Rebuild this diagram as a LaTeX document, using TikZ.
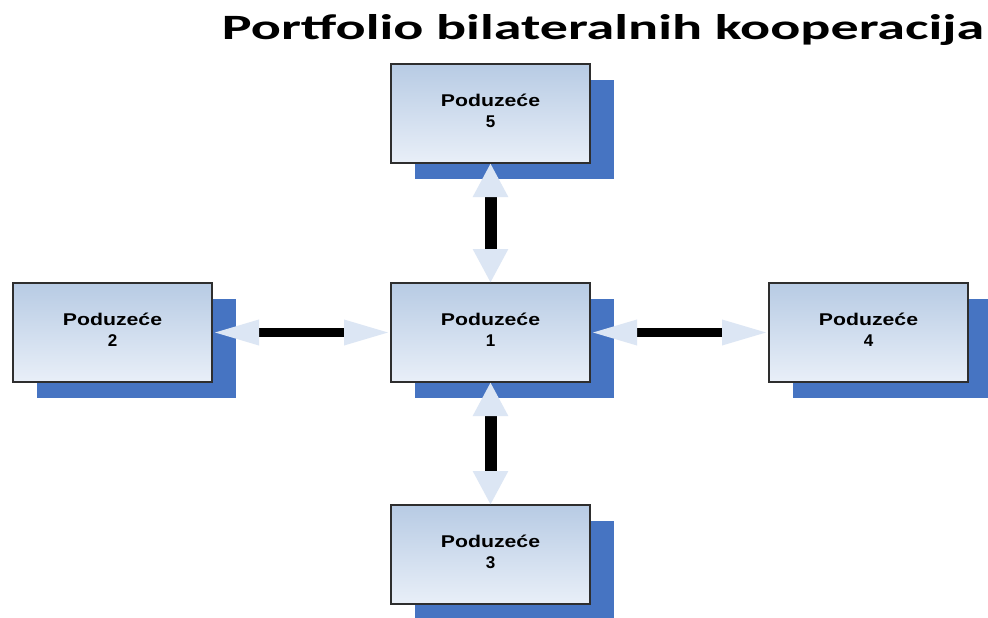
\documentclass[tikz,border=0pt]{standalone}
\usepackage{fontspec}
\setmainfont{Liberation Sans}
\newfontfamily\titlefont{Carlito}
\usetikzlibrary{arrows.meta,shadows}
\definecolor{boxtop}{HTML}{B7CBE4}
\definecolor{boxbot}{HTML}{E9EFF8}
\definecolor{boxline}{HTML}{2E2E2E}
\definecolor{shadowblue}{HTML}{4674C2}
\definecolor{arrowblue}{HTML}{DCE6F4}
\tikzset{
  firm/.style={rectangle, draw=boxline, line width=1.8pt, top color=boxtop, bottom color=boxbot,
    minimum width=199pt, minimum height=99pt, inner sep=0pt, outer sep=0pt, align=center,
    font=\bfseries\fontsize{17}{21}\selectfont,
    general shadow={fill=shadowblue, shadow xshift=24pt, shadow yshift=-16pt}},
  vconn/.style={line width=12pt, draw=black,
    {Triangle[length=34pt,width=33pt,color=arrowblue]}-{Triangle[length=34pt,width=33pt,color=arrowblue]}},
  hconn/.style={line width=9pt, draw=black,
    {Triangle[length=47pt,width=23pt,color=arrowblue]}-{Triangle[length=47pt,width=23pt,color=arrowblue]}},
  lbl/.style={inner sep=0pt, align=center, font=\bfseries\fontsize{17}{21}\selectfont},
  title/.style={anchor=base, inner sep=0pt}
}
\newcommand{\firmlabel}[1]{\scalebox{1.25}[1]{Poduzeće}\\#1}
\begin{document}
\begin{tikzpicture}[x=1pt,y=-1pt]
\useasboundingbox (0,0) rectangle (988,618);
\fill[white] (0,0) rectangle (988,618);
\node[title] (t) at (603,40) {\resizebox{762pt}{25pt}{\titlefont\bfseries Portfolio bilateralnih kooperacija}};
\node[firm] (b1) at (490.5,332.5) {};
\node[firm] (b5) at (490.5,113.5) {};
\node[firm] (b2) at (112.5,332.5) {};
\node[firm] (b4) at (868.5,332.5) {};
\node[firm] (b3) at (490.5,554.5) {};
\node[lbl] (l1) at (490.5,329.5) {\firmlabel{1}};
\node[lbl] (l5) at (490.5,110.5) {\firmlabel{5}};
\node[lbl] (l2) at (112.5,329.5) {\firmlabel{2}};
\node[lbl] (l4) at (868.5,329.5) {\firmlabel{4}};
\node[lbl] (l3) at (490.5,551.5) {\firmlabel{3}};
\draw[vconn] (b5.south) -- (b1.north);
\draw[vconn] (b1.south) -- (b3.north);
\draw[hconn] (b2.east) -- (b1.west);
\draw[hconn] (b1.east) -- (b4.west);
\end{tikzpicture}
\end{document}
